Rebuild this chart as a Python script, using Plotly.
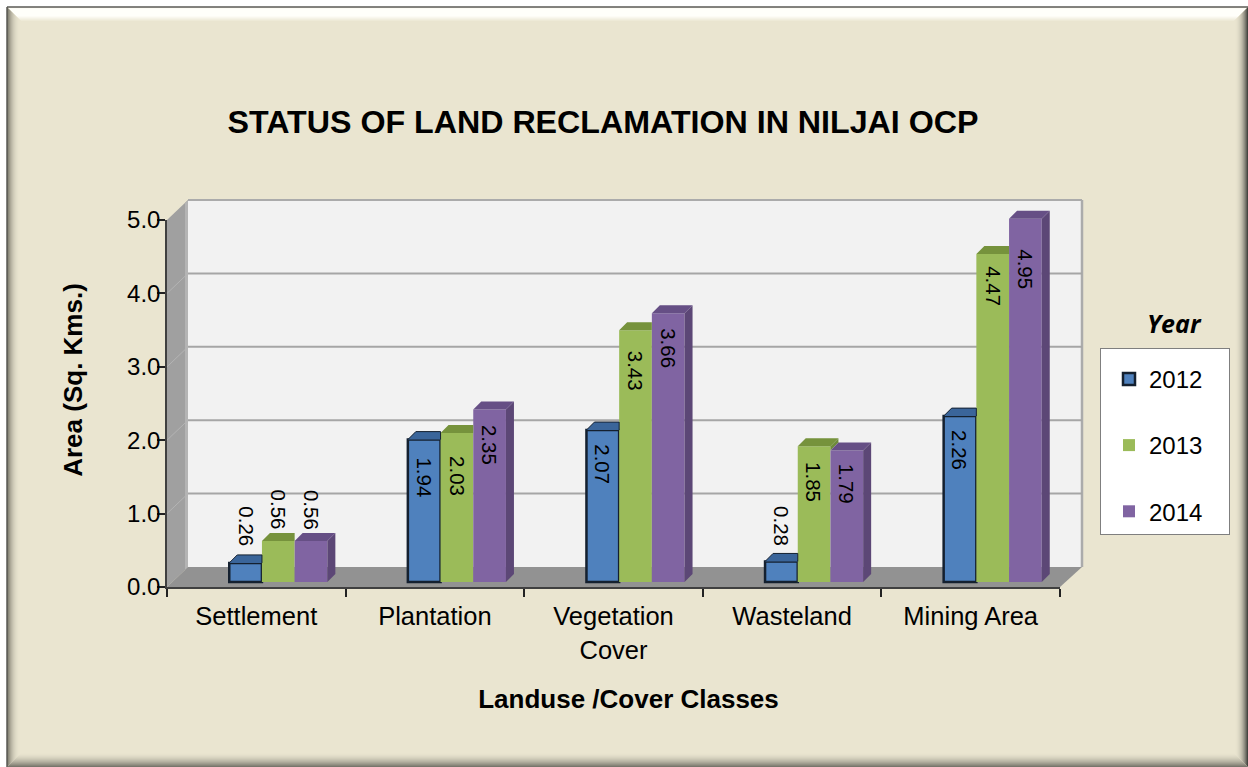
import plotly.graph_objects as go

categories = ["Settlement", "Plantation", "Vegetation<br>Cover", "Wasteland", "Mining Area"]
years = ["2012", "2013", "2014"]
values_2012 = [0.26, 1.94, 2.07, 0.28, 2.26]
values_2013 = [0.56, 2.03, 3.43, 1.85, 4.47]
values_2014 = [0.56, 2.35, 3.66, 1.79, 4.95]
y_ticks = [0, 1, 2, 3, 4, 5]

series = [values_2012, values_2013, values_2014]
front = ["#4F81BD", "#9BBB59", "#8064A2"]
top_c = ["#3A659A", "#76923C", "#664F85"]
side_c = ["#3A5F8E", "#6E8B3A", "#5C4776"]
label_off = [[-37, 38, 34, -35, 34], [-31, 43, 40, 36, 32], [-31, 35, 35, 33, 51]]

W, H = 1248, 767
AX_L, AX_R, AX_B, AX_T = 167, 1060, 587, 220
WALL = 21
BAR_SHIFT_X, BAR_B = 22, 582
P_L, P_R, P_T, P_B = 167, 1090, 170, 590
sx = (AX_R - AX_L) / 5
sy = (AX_B - AX_T) / 5
BEIGE = (234, 229, 208)


def px(x):
    return x / W


def py(y):
    return 1 - y / H


def poly(points, color, layer="below", line=None):
    path = "M" + " L".join(f"{px(a):.5f},{py(b):.5f}" for a, b in points) + " Z"
    return dict(type="path", xref="paper", yref="paper", path=path, fillcolor=color,
                line=dict(width=line[1], color=line[0]) if line else dict(width=0), layer=layer)


def seg(x0, y0, x1, y1, color, width):
    return dict(type="line", xref="paper", yref="paper", x0=px(x0), y0=py(y0), x1=px(x1), y1=py(y1),
                line=dict(color=color, width=width), layer="below")


def mix(c, t):
    return "rgb(%d,%d,%d)" % tuple(round(a + (b - a) * t) for a, b in zip(BEIGE, c))


shapes = []
L, T, R, B = 7, 7, 1248, 767
shapes.append(poly([(L, T), (R, T), (R, B), (L, B)], mix((0, 0, 0), 0)))


def bevel(side, k, color):
    il, it, ir, ib = L + k, T + k, R - k, B - k
    if side == "t":
        return poly([(il, it), (ir, it), (ir - 1, it + 1), (il + 1, it + 1)], color)
    if side == "l":
        return poly([(il, it), (il + 1, it + 1), (il + 1, ib - 1), (il, ib)], color)
    if side == "r":
        return poly([(ir, it), (ir - 1, it + 1), (ir - 1, ib - 1), (ir, ib)], color)
    return poly([(il, ib), (il + 1, ib - 1), (ir - 1, ib - 1), (ir, ib)], color)


BAND = 14
for k in range(BAND):
    t = 1 - k / BAND
    shapes.append(bevel("t", k, mix((255, 255, 250), max(0, min(1, 1.6 * (1 - abs(k - 5) / 9))))))
    shapes.append(bevel("l", k, mix((120, 118, 105), t ** 2.5)))
    shapes.append(bevel("r", k, mix((70, 70, 65), t ** 2.5)))
    shapes.append(bevel("b", k, mix((120, 118, 108), t ** 1.8)))
shapes.append(seg(L, T, R, T, "#5a5a55", 1.5))
shapes.append(seg(L, T, L, B, "#5a5a55", 1.5))

back_b = AX_B - 20
back_t = AX_T - 20
back_l, back_r = AX_L + WALL, AX_R + WALL + 1
shapes.append(poly([(back_l, back_t), (back_r, back_t), (back_r, back_b), (back_l, back_b)], "#F2F2F2"))
shapes.append(poly([(AX_L, AX_T), (back_l, back_t), (back_l, back_b), (AX_L, AX_B)], "#A0A0A0"))
shapes.append(poly([(back_l - 3, back_t + 3), (back_l, back_t), (back_l, back_b), (back_l - 3, back_b + 3)], "#B4B4B4"))
shapes.append(poly([(AX_L, AX_B), (back_l, back_b), (back_r, back_b), (AX_R, AX_B)], "#929292"))
shapes.append(seg(back_l, back_t, back_r, back_t, "#ABABAB", 2))
shapes.append(seg(back_r, back_t, back_r, back_b, "#ABABAB", 2.5))
for v in y_ticks[1:-1]:
    gy = AX_B - v * sy
    shapes.append(seg(back_l, gy - 20, back_r, gy - 20, "#A6A6A6", 2))
    shapes.append(seg(AX_L, gy, back_l, gy - 20, "#B4B4B4", 1))

dx = 8 / sx
dy = 8 / sy
bw = 32.7 / sx

fig = go.Figure()
for s, vals in enumerate(series):
    marker = dict(color=front[s])
    if s == 0:
        marker["line"] = dict(color="#14202F", width=2.5)
    else:
        marker["line"] = dict(color=front[s], width=0)
    fig.add_bar(x=list(range(5)), y=vals, width=bw, offset=(s - 1.5) * bw, name=years[s], marker=marker,
                xaxis="x2", yaxis="y2", legendgroup=years[s], hoverinfo="x+y")

for s, vals in enumerate(series):
    side_x, side_y, top_x, top_y = [], [], [], []
    for i, v in enumerate(vals):
        x0 = i + (s - 1.5) * bw
        x1 = x0 + bw
        nxt = series[s + 1][i] if s < 2 else None
        if nxt is None or nxt < v:
            low = 0 if nxt is None else nxt
            side_x += [x1, x1 + dx, x1 + dx, x1, None]
            side_y += [low, low + dy, v + dy, v, None]
            top_x += [x0, x0 + dx, x1 + dx, x1, None]
            top_y += [v, v + dy, v + dy, v, None]
        else:
            top_x += [x0, x0 + dx, x1, x1, None]
            top_y += [v, v + dy, v + dy, v, None]
    if side_x:
        fig.add_scatter(x=side_x, y=side_y, mode="lines", fill="toself", fillcolor=side_c[s],
                        line=dict(width=0), xaxis="x2", yaxis="y2", showlegend=False, hoverinfo="skip")
    fig.add_scatter(x=top_x, y=top_y, mode="lines", fill="toself", fillcolor=top_c[s],
                    line=dict(width=1 if s == 0 else 0, color="#14202F"), xaxis="x2", yaxis="y2",
                    showlegend=False, hoverinfo="skip")

fig.add_scatter(x=[0], y=[0], mode="markers", marker=dict(opacity=0), showlegend=False, hoverinfo="skip")

annotations = []
for s, vals in enumerate(series):
    for i, v in enumerate(vals):
        annotations.append(dict(x=i + (s - 1) * bw, y=v, xref="x2", yref="y2", text=f"{v:.2f}", textangle=90,
                                showarrow=False, yshift=-label_off[s][i], yanchor="middle", xanchor="center",
                                font=dict(family="Liberation Sans", size=20.5, color="black")))
annotations.append(dict(x=px(1174), y=py(323), xref="paper", yref="paper", text="<b><i>Year</i></b>", showarrow=False,
                        xanchor="center", yanchor="middle", font=dict(family="Open Sans", size=25, color="black")))

FONT = "Liberation Sans"
fig.update_layout(
    width=W, height=H, margin=dict(l=0, r=0, t=0, b=0, autoexpand=False), paper_bgcolor="white",
    plot_bgcolor="rgba(0,0,0,0)",
    title=dict(text="<b>STATUS OF LAND RECLAMATION IN NILJAI OCP</b>", x=603 / W, y=py(122), xanchor="center",
               yanchor="middle", xref="container", yref="container", font=dict(family=FONT, size=32.2, color="black")),
    xaxis=dict(domain=[px(AX_L), px(AX_R)], range=[-0.5, 4.5], tickmode="array", tickvals=list(range(5)),
               ticktext=categories, ticks="", showgrid=False, zeroline=False, showline=True, linecolor="#404040",
               linewidth=1.5, tickfont=dict(family=FONT, size=25.5, color="black"), anchor="y", ticklabelstandoff=6,
               minor=dict(tickmode="array", tickvals=[i - 0.5 for i in range(6)], ticks="outside", ticklen=8,
                          tickcolor="#222", tickwidth=1.5, showgrid=False), tickangle=0),
    yaxis=dict(domain=[py(AX_B), py(AX_T)], range=[0, 5], tickmode="array", tickvals=y_ticks,
               ticktext=[f"{v:.1f}" for v in y_ticks], ticks="outside", ticklen=8, tickcolor="#222", tickwidth=1.5,
               showgrid=False, zeroline=False, showline=True, linecolor="#404040", linewidth=1.5,
               tickfont=dict(family=FONT, size=24, color="black"), anchor="x", ticklabelstandoff=-8),
    xaxis2=dict(domain=[px(P_L), px(P_R)], range=[(P_L - (AX_L + sx / 2 + BAR_SHIFT_X)) / sx, (P_R - (AX_L + sx / 2 + BAR_SHIFT_X)) / sx],
                showgrid=False, zeroline=False, showline=False, showticklabels=False, ticks="", anchor="y2",
                title=dict(text="<b>Landuse /Cover Classes</b>", standoff=99, font=dict(family=FONT, size=26, color="black"))),
    yaxis2=dict(domain=[py(P_B), py(P_T)], range=[(BAR_B - P_B) / sy, (BAR_B - P_T) / sy],
                showgrid=False, zeroline=False, showline=False, showticklabels=False, ticks="", anchor="x2",
                title=dict(text="<b>Area (Sq. Kms.)</b>", standoff=75, font=dict(family=FONT, size=26, color="black"))),
    barmode="overlay",
    legend=dict(x=px(1100), y=py(348), xanchor="left", yanchor="top", bgcolor="white", bordercolor="#7f7f7f", borderwidth=1,
                traceorder="grouped", tracegroupgap=32, font=dict(family=FONT, size=24, color="black"), indentation=8,
                title=dict(text="\u00a0" * 74, font=dict(size=6))),
    shapes=shapes, annotations=annotations,
)
fig.write_html("out.html", config=dict(displayModeBar=False),
               post_script="document.body.style.margin='0';document.body.style.overflow='hidden';")
